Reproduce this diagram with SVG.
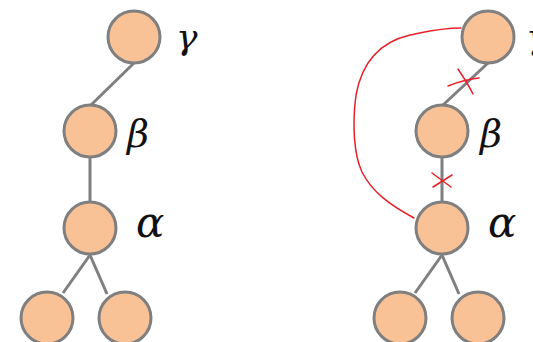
<svg xmlns="http://www.w3.org/2000/svg" width="533" height="342" viewBox="0 0 533 342">
<style>
.node{fill:#F8C196;stroke:#7F7F7F;stroke-width:3}
.edge{stroke:#7F7F7F;stroke-width:3;fill:none}
.red{stroke:#E8202A;stroke-width:1.5;fill:none;stroke-linecap:round}
.lbl{font-family:"DejaVu Serif","Liberation Serif",serif;font-style:italic;fill:#111}
</style>
<rect width="533" height="342" fill="#ffffff"/>
<g id="connectors">
<line class="edge" x1="134" y1="63" x2="91" y2="105"/>
<line class="edge" x1="90" y1="157" x2="90" y2="202"/>
<line class="edge" x1="90" y1="255" x2="63" y2="293"/>
<line class="edge" x1="90" y1="255" x2="107" y2="294"/>
<line class="edge" x1="488" y1="63" x2="443" y2="105"/>
<line class="edge" x1="442" y1="157" x2="442" y2="202"/>
<line class="edge" x1="442" y1="255" x2="415" y2="293"/>
<line class="edge" x1="442" y1="255" x2="459" y2="294"/>
<path class="red" d="M461,28 C440,28 425,32 410,35 C380,42 362,62 356,95 C352,125 354,155 362,172 C372,192 390,205 414,218"/>
<path class="red" d="M448,86 C458,82 468,79 479,78"/>
<path class="red" d="M458,69 C464,78 469,86 473,94"/>
<path class="red" d="M432,173 L451,187"/>
<path class="red" d="M433,187 L452,175"/>
</g>
<g id="n-gamma-l"><circle class="node" cx="134" cy="37" r="26"/><text class="lbl" x="176" y="49" font-size="36">γ</text></g>
<g id="n-beta-l"><circle class="node" cx="90" cy="131" r="26"/><text class="lbl" x="127" y="147" font-size="38">β</text></g>
<g id="n-alpha-l"><circle class="node" cx="90" cy="228" r="26"/><text class="lbl" x="136" y="237" font-size="42">α</text></g>
<g id="n-leaf1-l"><circle class="node" cx="47" cy="318" r="26"/></g>
<g id="n-leaf2-l"><circle class="node" cx="125" cy="318" r="26"/></g>
<g id="n-gamma-r"><circle class="node" cx="488" cy="37" r="26"/><text class="lbl" x="526" y="49" font-size="36">γ</text></g>
<g id="n-beta-r"><circle class="node" cx="442" cy="131" r="26"/><text class="lbl" x="480" y="147" font-size="38">β</text></g>
<g id="n-alpha-r"><circle class="node" cx="442" cy="228" r="26"/><text class="lbl" x="488" y="237" font-size="42">α</text></g>
<g id="n-leaf1-r"><circle class="node" cx="400" cy="318" r="26"/></g>
<g id="n-leaf2-r"><circle class="node" cx="478" cy="318" r="26"/></g>
</svg>
